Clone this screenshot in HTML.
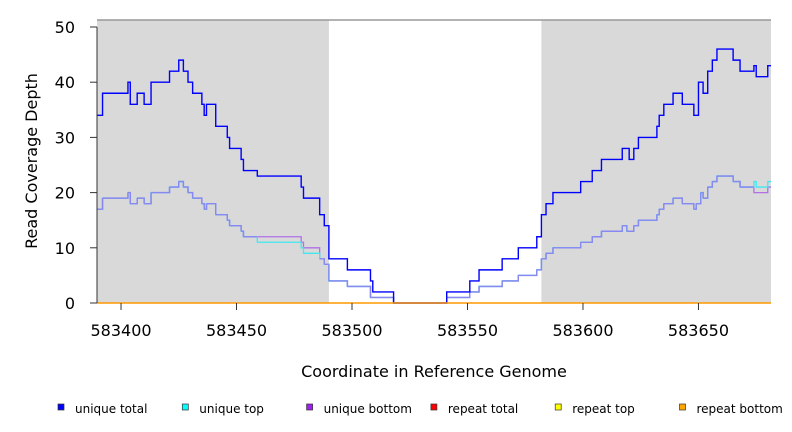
<!DOCTYPE html>
<html><head><meta charset="utf-8"><style>
body{margin:0;background:#fff;}
svg{display:block;font-family:"DejaVu Sans","Liberation Sans",sans-serif;}
</style></head><body>
<svg id="chart" width="792" height="432" viewBox="0 0 792 432" xmlns="http://www.w3.org/2000/svg">
<g id="bg"></g>
<g id="marks"></g>
<g id="axes"></g>
<text x="37" y="161" font-size="16" text-anchor="middle" transform="rotate(-90 37 161)">Read Coverage Depth</text>
<text x="434" y="377" font-size="16" text-anchor="middle">Coordinate in Reference Genome</text>
<g id="legend"></g>
</svg>
<script>
const xTicks = [583400, 583450, 583500, 583550, 583600, 583650];
const yTicks = [0, 10, 20, 30, 40, 50];
const shadedRegions = [[583389.6, 583490], [583582, 583681.4]];
const totalX = [583389.6,583392,583403,583404,583407,583410,583413,583421,583425,583427,583429,583431,583435,583436,583437,583441,583446,583447,583452,583453,583459,583478,583479,583486,583488,583490,583498,583508,583509,583518,583541,583551,583555,583565,583572,583580,583582,583584,583587,583599,583604,583608,583617,583620,583622,583624,583632,583633,583635,583639,583643,583648,583650,583652,583654,583656,583658,583665,583668,583674,583675,583680];
const totalY = [34,38,40,36,38,36,40,42,44,42,40,38,36,34,36,32,30,28,26,24,23,21,19,16,14,8,6,4,2,0,2,4,6,8,10,12,16,18,20,22,24,26,28,26,28,30,32,34,36,38,36,34,40,38,42,44,46,44,42,43,41,43];
const lowX = [583389.6,583392,583403,583404,583407,583410,583413,583421,583425,583427,583429,583431,583435,583436,583437,583441,583446,583447,583452,583453,583459,583478,583479,583486,583488,583490,583498,583508,583518,583541,583551,583555,583565,583572,583580,583582,583584,583587,583599,583604,583608,583617,583619,583622,583624,583632,583633,583635,583639,583643,583648,583649,583651,583652,583654,583656,583658,583665,583668,583674,583675,583680];
const topY = [17,19,20,18,19,18,20,21,22,21,20,19,18,17,18,16,15,14,13,12,11,10,9,8,7,4,3,1,0,1,2,3,4,5,6,8,9,10,11,12,13,14,13,14,15,16,17,18,19,18,17,18,20,19,21,22,23,22,21,22,21,22];
const bottomY = [17,19,20,18,19,18,20,21,22,21,20,19,18,17,18,16,15,14,13,12,12,11,10,8,7,4,3,1,0,1,2,3,4,5,6,8,9,10,11,12,13,14,13,14,15,16,17,18,19,18,17,18,20,19,21,22,23,22,21,20,20,21];
const repeatX = [583389.6];
const repeatY = [0];
const xMin = 583389.6, xMax = 583681.4;
const L = 97, R = 771, T = 20, B = 303;
const NS = "http://www.w3.org/2000/svg";
function sx(v){ return L + (v - xMin) / (xMax - xMin) * (R - L); }
function sy(v){ return B - v * 5.52; }
function mk(tag, attrs, parent){ const e = document.createElementNS(NS, tag); for (const k in attrs) e.setAttribute(k, attrs[k]); parent.appendChild(e); return e; }
const bg = document.getElementById('bg'), marks = document.getElementById('marks'), axes = document.getElementById('axes'), legend = document.getElementById('legend');
shadedRegions.forEach(r => {
  const e = mk('rect', {x: sx(r[0]), y: T, width: sx(r[1]) - sx(r[0]), height: B - T, fill: '#d9d9d9'}, bg);
  
  
});
const tl = mk('line', {x1: L, y1: T, x2: R, y2: T, stroke: '#999', 'stroke-width': 1.5}, bg);


function stepPath(xs, ys){
  let d = '';
  for (let i = 0; i < xs.length; i++) {
    const x0 = sx(xs[i]), x1 = sx(i + 1 < xs.length ? xs[i + 1] : xMax), y = sy(ys[i]);
    d += (i === 0 ? 'M' + x0 + ',' + y : 'L' + x0 + ',' + y) + 'L' + x1 + ',' + y;
  }
  return d;
}
const pb = mk('path', {d: stepPath(lowX, bottomY), fill: 'none', stroke: '#b070e8', 'stroke-width': 1.3}, marks);


const pt = mk('path', {d: stepPath(lowX, topY), fill: 'none', stroke: '#40e8f0', 'stroke-width': 1.3}, marks);


// overlap segments where top equals bottom
for (let i = 0; i < lowX.length; i++) {
  const x1v = i + 1 < lowX.length ? lowX[i + 1] : xMax;
  if (topY[i] === bottomY[i]) {
    let d = 'M' + sx(lowX[i]) + ',' + sy(topY[i]) + 'L' + sx(x1v) + ',' + sy(topY[i]);
    if (i + 1 < lowX.length && topY[i + 1] === bottomY[i + 1]) d += 'L' + sx(x1v) + ',' + sy(topY[i + 1]);
    const s = mk('path', {d: d, fill: 'none', stroke: '#8888f0', 'stroke-width': 1.4}, marks);
    
    
  }
}
const ptot = mk('path', {d: stepPath(totalX, totalY), fill: 'none', stroke: '#0000ff', 'stroke-width': 1.4}, marks);


const prep = mk('path', {d: stepPath(repeatX, repeatY), fill: 'none', stroke: '#ff9900', 'stroke-width': 1.4}, marks);


const ya = mk('line', {x1: L, y1: sy(50), x2: L, y2: B, stroke: '#333', 'stroke-width': 1}, axes);


yTicks.forEach(v => {
  const t = mk('line', {x1: L - 7, y1: sy(v), x2: L, y2: sy(v), stroke: '#333'}, axes);
  
  
  const lb = mk('text', {x: 75, y: sy(v) + 6, 'font-size': 16, 'text-anchor': 'end'}, axes);
  lb.textContent = v;
  
  
});
xTicks.forEach(v => {
  const t = mk('line', {x1: sx(v), y1: B, x2: sx(v), y2: B + 7, stroke: '#333'}, axes);
  
  
  const lb = mk('text', {x: sx(v), y: 336, 'font-size': 16, 'text-anchor': 'middle'}, axes);
  lb.textContent = v;
  
  
});
const legendNames = ['unique total', 'unique top', 'unique bottom', 'repeat total', 'repeat top', 'repeat bottom'];
const legendColors = ['#0000ff', '#00ffff', '#a020f0', '#ff0000', '#ffff00', '#ffa500'];
legendNames.forEach((n, i) => {
  const x = 58 + i * 124.3;
  const sq = mk('rect', {x: x, y: 404, width: 6, height: 6, fill: legendColors[i], stroke: '#333', 'stroke-width': 0.7}, legend);
  
  
  const tx = mk('text', {x: x + 17, y: 413, 'font-size': 12}, legend);
  tx.textContent = n;
  
  
});
</script>
</body></html>
